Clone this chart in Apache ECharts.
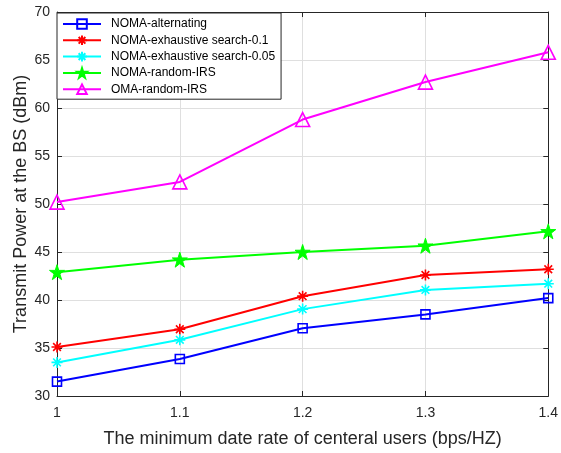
<!DOCTYPE html>
<html>
<head>
<meta charset="utf-8">
<script src="https://cdn.jsdelivr.net/npm/echarts@6/dist/echarts.min.js"></script>
<style>html,body{margin:0;padding:0;background:#fff}#c{width:561px;height:453px}</style>
</head>
<body>
<div id="c"></div>
<script>
var rates = [1, 1.1, 1.2, 1.3, 1.4];
var names = ['NOMA-alternating', 'NOMA-exhaustive search-0.1', 'NOMA-exhaustive search-0.05', 'NOMA-random-IRS', 'OMA-random-IRS'];
var nomaAlternating = [31.5, 33.85, 37.05, 38.5, 40.2];
var nomaExhaustive01 = [35.1, 36.95, 40.4, 42.6, 43.2];
var nomaExhaustive005 = [33.5, 35.85, 39.05, 41.05, 41.7];
var nomaRandomIRS = [42.9, 44.2, 45.0, 45.65, 47.15];
var omaRandomIRS = [50.2, 52.3, 58.8, 62.7, 65.8];
var yTicks = [30, 35, 40, 45, 50, 55, 60, 65, 70];

var asterisk = 'path://M0,-1L0,1M-1,0L1,0M-0.7,-0.7L0.7,0.7M-0.7,0.7L0.7,-0.7';
var star = 'path://M0,-1L0.2245,-0.309L0.951,-0.309L0.3633,0.118L0.5878,0.809L0,0.382L-0.5878,0.809L-0.3633,0.118L-0.951,-0.309L-0.2245,-0.309Z';

function pairs(v) { return rates.map(function (x, i) { return [x, v[i]]; }); }

var textColor = '#262626';
var font = 'Liberation Sans, Arial, Helvetica, sans-serif';

function mk(name, vals, color, symbol, size, fill) {
  return {
    name: name, type: 'line', data: pairs(vals),
    symbol: symbol, symbolSize: size, showSymbol: true,
    lineStyle: { color: color, width: 2 },
    itemStyle: { color: fill, borderColor: color, borderWidth: 1.6 },
    emphasis: { disabled: true }, animation: false, z: 3
  };
}

var series = [
  mk(names[0], nomaAlternating, '#0000ff', 'rect', 9, 'rgba(0,0,0,0)'),
  mk(names[1], nomaExhaustive01, '#ff0000', asterisk, 11, '#ff0000'),
  mk(names[2], nomaExhaustive005, '#00ffff', asterisk, 11, '#00ffff'),
  mk(names[3], nomaRandomIRS, '#00ff00', star, 15, '#00ff00'),
  mk(names[4], omaRandomIRS, '#ff00ff', 'triangle', 14, 'rgba(0,0,0,0)')
];
series[3].itemStyle.borderWidth = 1;

var chart = echarts.init(document.getElementById('c'), null, { renderer: 'canvas' });
chart.setOption({
  animation: false,
  backgroundColor: '#fff',
  grid: { left: 57, right: 11, top: 12, bottom: 53, containLabel: false },
  legend: {
    orient: 'vertical', left: 57, top: 13,
    data: names,
    itemWidth: 38, itemHeight: 12, itemGap: 4.3,
    padding: [5, 6, 4, 5],
    borderColor: textColor, borderWidth: 1, backgroundColor: '#fff',
    textStyle: { color: '#000', fontSize: 12, fontFamily: font, padding: [0, 0, 0, 5] },
    z: 10
  },
  xAxis: [{
    type: 'value', min: 1, max: 1.4, interval: 0.1,
    name: 'The minimum date rate of centeral users (bps/HZ)',
    nameLocation: 'middle', nameGap: 34, nameMoveOverlap: false,
    nameTextStyle: { color: textColor, fontSize: 18, fontFamily: font },
    axisLine: { show: true, onZero: false, lineStyle: { color: textColor, width: 1 } },
    axisTick: { show: true, inside: true, length: 5, lineStyle: { color: textColor } },
    axisLabel: { color: textColor, fontSize: 14, fontFamily: font, margin: 10,
      formatter: function (v) { return String(Number(v.toFixed(1))); } },
    splitLine: { show: true, lineStyle: { color: '#dfdfdf', width: 1 } }
  }, {
    type: 'value', min: 1, max: 1.4, interval: 0.1, position: 'top',
    axisLine: { show: true, onZero: false, lineStyle: { color: textColor, width: 1 } },
    axisTick: { show: true, inside: true, length: 5, lineStyle: { color: textColor } },
    axisLabel: { show: false }, splitLine: { show: false }
  }],
  yAxis: [{
    type: 'value', min: yTicks[0], max: yTicks[yTicks.length - 1], interval: 5,
    name: 'Transmit Power at the BS (dBm)',
    nameLocation: 'middle', nameGap: 27, nameRotate: 90, nameMoveOverlap: false,
    nameTextStyle: { color: textColor, fontSize: 18, fontFamily: font },
    axisLine: { show: true, onZero: false, lineStyle: { color: textColor, width: 1 } },
    axisTick: { show: true, inside: true, length: 5, lineStyle: { color: textColor } },
    axisLabel: { color: textColor, fontSize: 14, fontFamily: font, margin: 7 },
    splitLine: { show: true, lineStyle: { color: '#dfdfdf', width: 1 } }
  }, {
    type: 'value', min: yTicks[0], max: yTicks[yTicks.length - 1], interval: 5, position: 'right',
    axisLine: { show: true, onZero: false, lineStyle: { color: textColor, width: 1 } },
    axisTick: { show: true, inside: true, length: 5, lineStyle: { color: textColor } },
    axisLabel: { show: false }, splitLine: { show: false }
  }],
  series: series
});
</script>
</body>
</html>
